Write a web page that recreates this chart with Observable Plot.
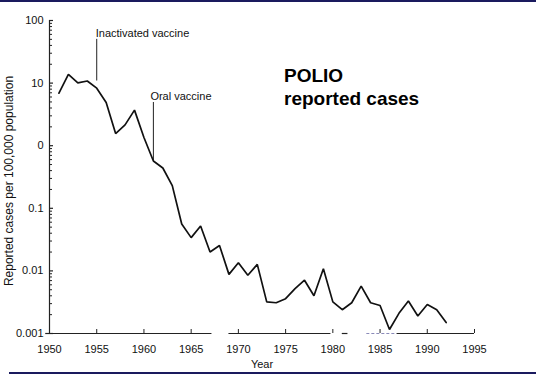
<!DOCTYPE html>
<html>
<head>
<meta charset="utf-8">
<script src="https://cdn.jsdelivr.net/npm/d3@7"></script>
<script src="https://cdn.jsdelivr.net/npm/@observablehq/plot@0.6"></script>
<style>
  html, body { margin: 0; padding: 0; background: #fff; }
  #wrap { position: relative; width: 536px; height: 376px; overflow: hidden; font-family: "Liberation Sans", Arial, sans-serif; }
  #topline { position: absolute; left: 0; top: 0; width: 536px; height: 2px; background: #1a1a5e; }
  #botline { position: absolute; left: 9px; top: 372px; width: 527px; height: 2px; background: #1a1a5e; }
  #title { position: absolute; left: 284px; top: 64px; font-size: 19px; font-weight: bold; line-height: 23px; color: #000; }
  #chart { position: absolute; left: 0; top: 0; }
</style>
</head>
<body>
<div id="wrap">
  <div id="chart"></div>
  <div id="topline"></div>
  <div id="botline"></div>
  <div id="title">POLIO<br>reported cases</div>
</div>
<script>
// Data
const years = [1951,1952,1953,1954,1955,1956,1957,1958,1959,1960,1961,1962,1963,1964,1965,1966,1967,1968,1969,1970,1971,1972,1973,1974,1975,1976,1977,1978,1979,1980,1981,1982,1983,1984,1985,1986,1987,1988,1989,1990,1991,1992];
const rates = [6.9,13.8,10.1,10.8,8.3,4.9,1.56,2.15,3.7,1.35,0.57,0.44,0.23,0.056,0.034,0.052,0.020,0.0255,0.0088,0.0135,0.0085,0.0127,0.0032,0.0031,0.0036,0.0052,0.0071,0.0040,0.0108,0.0032,0.0024,0.0031,0.0057,0.0031,0.0028,0.00116,0.0021,0.0033,0.0019,0.0029,0.0024,0.0015];

const xTicks = [1950,1955,1960,1965,1970,1975,1980,1985,1990,1995];
const yTicks = [100,10,1,0.1,0.01,0.001];
const yTickLabels = ["100","10","0","0.1","0.01","0.001"];
const yMinor = [];
for (const d of [0.001,0.01,0.1,1,10]) for (let k = 2; k <= 9; k++) yMinor.push(+(d*k).toPrecision(3));

const annoYears = [1955, 1961];
const annoLabels = ["Inactivated vaccine", "Oral vaccine"];
const annoTop = [50, 4.9];
const annoBottom = [10.8, 0.58];
const annoShift = [-1, -3];

// broken x-axis baseline segments (years)
const axisSegStart = [1950, 1969, 1981, 1986.8];
const axisSegEnd = [1967.2, 1979.8, 1981.6, 1995];

const series = years.map((y, i) => ({year: y, rate: rates[i]}));
const annos = annoYears.map((y, i) => ({year: y, label: annoLabels[i], top: annoTop[i], bottom: annoBottom[i], shift: annoShift[i]}));
const segs = axisSegStart.map((s, i) => ({a: s, b: axisSegEnd[i]}));

const fontFamily = "'Liberation Sans', Arial, sans-serif";

const chart = Plot.plot({
  width: 536,
  height: 376,
  marginLeft: 49,
  marginRight: 62,
  marginTop: 20,
  marginBottom: 43,
  style: {fontFamily, fontSize: "11px", color: "#111", background: "transparent"},
  x: {domain: [1950, 1995], axis: null},
  y: {type: "log", domain: [0.001, 100], axis: null},
  marks: [
    // y axis line
    Plot.ruleX([1950], {y1: 0.001, y2: 100, stroke: "#222", strokeWidth: 1.2}),
    // x axis baseline (broken)
    Plot.ruleY(segs, {y: () => 0.001, x1: "a", x2: "b", stroke: "#222", strokeWidth: 1.2}),
    Plot.ruleY([0], {y: () => 0.001, x1: () => 1983.6, x2: () => 1986.8, stroke: "#8a8ab8", strokeWidth: 1, strokeDasharray: "3,2"}),
    Plot.ruleY([0], {y: () => 0.001, x1: () => 1949.6, x2: () => 1950, stroke: "#222", strokeWidth: 1.2}),
    // y minor ticks (inward)
    Plot.axisY(yMinor, {anchor: "left", tickSize: 3, dx: 3, tickFormat: () => "", stroke: "#222", strokeWidth: 1}),
    // y major ticks (inward)
    Plot.axisY(yTicks, {anchor: "left", tickSize: 4, dx: 4, tickFormat: () => "", stroke: "#222", strokeWidth: 1.2}),
    // y tick labels
    Plot.axisY(yTicks, {anchor: "left", tickSize: 0, tickPadding: 6, tickFormat: (d) => yTickLabels[yTicks.indexOf(d)], fontSize: 11, fill: "#111"}),
    // x ticks (inward)
    Plot.axisX(xTicks, {anchor: "bottom", tickSize: 4, dy: -4, tickFormat: () => "", stroke: "#222", strokeWidth: 1}),
    // x tick labels
    Plot.axisX(xTicks, {anchor: "bottom", tickSize: 0, tickPadding: 12, tickFormat: (d) => String(d), fontSize: 11, fill: "#111"}),
    // axis titles
    Plot.text(["Year"], {frameAnchor: "bottom", dy: 34, text: (d) => d, fontSize: 11, fill: "#111"}),
    Plot.text(["Reported cases per 100,000 population"], {frameAnchor: "left", textAnchor: "middle", dx: -40, dy: 4, rotate: -90, text: (d) => d, fontSize: 12, fill: "#111"}),
    // annotations
    Plot.ruleX(annos, {x: "year", y1: "bottom", y2: "top", stroke: "#222", strokeWidth: 1}),
    Plot.text(annos.slice(0, 1), {x: "year", y: "top", text: "label", dy: -6, dx: -1, textAnchor: "start", fontSize: 11, fill: "#111"}),
    Plot.text(annos.slice(1), {x: "year", y: "top", text: "label", dy: -6, dx: -3, textAnchor: "start", fontSize: 11, fill: "#111"}),
    // data line
    Plot.line(series, {x: "year", y: "rate", stroke: "#111", strokeWidth: 1.7, strokeLinejoin: "miter"})
  ]
});
document.getElementById("chart").appendChild(chart);
</script>
</body>
</html>
